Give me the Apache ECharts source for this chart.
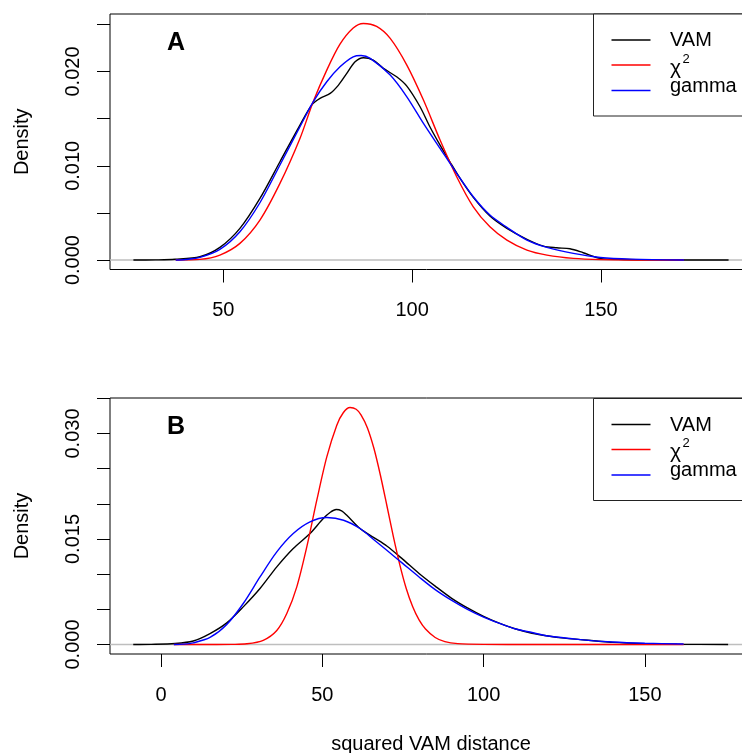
<!DOCTYPE html>
<html>
<head>
<meta charset="utf-8">
<script src="https://cdn.jsdelivr.net/npm/echarts@6/dist/echarts.min.js"></script>
<style>
html,body{margin:0;padding:0;background:#fff;}
#chart{width:742px;height:753px;}
</style>
</head>
<body>
<div id="chart"></div>
<script>
// ---------- Panel A data ----------
const aVamX = [26.2, 32, 37.2, 43.8, 49.1, 54.4, 59.7, 65.0, 70.3, 73.4, 75.6, 78.3, 80.5, 82.7, 84.9, 87.1, 89.7, 92.4, 95.9, 98.6, 102.1, 104.7, 107.4, 110.0, 112.7, 116.2, 120.6, 125.1, 130.4, 134.8, 138.3, 141.8, 145.3, 149.8, 156, 165, 183.8];
const aVamY = [0, 0.00002, 0.00008, 0.00035, 0.00134, 0.00336, 0.00654, 0.01043, 0.01432, 0.01644, 0.01715, 0.01768, 0.01856, 0.0198, 0.02103, 0.02146, 0.02121, 0.02033, 0.01944, 0.01845, 0.01626, 0.01414, 0.01219, 0.01043, 0.00866, 0.00665, 0.00467, 0.00336, 0.0022, 0.00148, 0.0013, 0.0012, 0.00078, 0.00018, 0.00006, 0.00002, 0];

const aChiX = [37.4, 43.8, 49.1, 54.4, 59.7, 65.0, 70.3, 73.8, 77.4, 80.9, 84.4, 87.1, 90.6, 94.2, 98.6, 103.0, 107.4, 111.8, 116.2, 120.6, 125.1, 130.4, 135.7, 142.7, 150, 160, 172];
const aChiY = [0, 0.00007, 0.00053, 0.00177, 0.00424, 0.00813, 0.0129, 0.01679, 0.02015, 0.0229, 0.02462, 0.0251, 0.02478, 0.02351, 0.02068, 0.01697, 0.01273, 0.00884, 0.00565, 0.00353, 0.00212, 0.00106, 0.00053, 0.00018, 0.00005, 0.00001, 0];

const aGamX = [37.4, 40, 43.8, 49.1, 54.4, 59.7, 65.0, 70.3, 73.8, 77.4, 80.9, 84.4, 86.5, 88.9, 94.2, 98.6, 103.0, 107.4, 111.8, 116.2, 120.6, 125.1, 130.4, 135.7, 142.7, 149.8, 158, 172];
const aGamY = [0, 0.00006, 0.00028, 0.00113, 0.003, 0.00608, 0.01008, 0.01414, 0.01679, 0.01891, 0.0205, 0.02156, 0.0217, 0.0214, 0.01962, 0.01732, 0.0145, 0.01185, 0.0092, 0.00671, 0.00477, 0.00347, 0.00212, 0.00135, 0.00071, 0.00028, 0.0001, 0.00001];

// ---------- Panel B data ----------
const bVamX = [-8.6, -3, 4.4, 10.0, 15.2, 20.4, 25.5, 30.7, 35.9, 41.0, 46.2, 50.3, 52.5, 54.3, 56, 57.6, 61.7, 66, 70, 75, 80, 85, 90, 95, 100, 105, 110, 115, 120, 125, 130, 135, 140, 150, 160, 175.8];
const bVamY = [0, 0.00002, 0.00014, 0.0005, 0.00156, 0.00308, 0.00535, 0.00796, 0.01104, 0.01365, 0.01578, 0.01791, 0.0188, 0.01919, 0.0190, 0.01838, 0.01649, 0.0152, 0.0140, 0.0121, 0.0101, 0.0083, 0.0066, 0.0052, 0.0040, 0.0030, 0.0022, 0.0016, 0.0012, 0.0009, 0.0007, 0.0005, 0.0003, 0.00012, 0.00004, 0];

const bChiX = [4.0, 15, 22, 26.6, 31.7, 35.9, 39.0, 42.1, 45.2, 48.3, 51.4, 54.5, 56.5, 58.6, 60.5, 62, 64, 66, 68, 70, 72, 74, 76, 78, 80, 82, 85, 88, 92, 100, 115, 162];
const bChiY = [0, 0, 0.00002, 0.0001, 0.0006, 0.002, 0.0044, 0.0082, 0.01388, 0.02052, 0.02667, 0.03118, 0.03295, 0.03369, 0.03345, 0.03265, 0.0308, 0.0279, 0.0241, 0.0198, 0.0154, 0.0114, 0.0080, 0.0054, 0.0035, 0.0022, 0.0010, 0.0004, 0.00012, 0.00002, 0, 0];

const bGamX = [4.0, 7, 10.0, 15.2, 20.4, 25.5, 30.7, 35.9, 41.0, 46.2, 51.4, 56.6, 61.7, 66, 70, 75, 80, 85, 90, 95, 100, 105, 110, 115, 120, 130, 140, 150, 162];
const bGamY = [0, 0.00005, 0.00023, 0.001, 0.00285, 0.00583, 0.00961, 0.01317, 0.01578, 0.01743, 0.01805, 0.01767, 0.01649, 0.0149, 0.0134, 0.0115, 0.0096, 0.0078, 0.0063, 0.0050, 0.0039, 0.0030, 0.0022, 0.0017, 0.0012, 0.0007, 0.00035, 0.00017, 0.00007];

// ---------- axes / ticks ----------
const aXLim = [20, 190];
const bXLim = [-15.8, 183.2];
const aYLim = [-0.001, 0.0261];
const bYLim = [-0.00135, 0.03505];
const aXTicks = [50, 100, 150];
const bXTicks = [0, 50, 100, 150];
const aYTicks = [0, 0.005, 0.01, 0.015, 0.02, 0.025];
const aYLabels = [0, 0.01, 0.02];
const bYTicks = [0, 0.005, 0.01, 0.015, 0.02, 0.025, 0.03, 0.035];
const bYLabels = [0, 0.015, 0.03];
const legendNames = ['VAM', 'χ', 'gamma'];
const panelLabels = ['A', 'B'];
const colors = ['#000000', '#ff0000', '#0000ff'];

const FF = '"Liberation Sans", Arial, Helvetica, sans-serif';
const zip = (xs, ys) => xs.map((x, i) => [x, ys[i]]);

function xAx(gi, lim, ticks, name) {
  return {
    type: 'value', gridIndex: gi, min: lim[0], max: lim[1],
    axisLine: { show: false, onZero: false },
    axisTick: { show: true, length: 13, customValues: ticks, lineStyle: { color: '#000', width: 1 } },
    axisLabel: { customValues: ticks, margin: 31, color: '#000', fontSize: 20, fontFamily: FF,
      formatter: v => String(v) },
    splitLine: { show: false },
    name: name || '', nameLocation: 'middle', nameGap: 80,
    nameTextStyle: { color: '#000', fontSize: 20, fontFamily: FF }
  };
}
function yAx(gi, lim, ticks, labels) {
  return {
    type: 'value', gridIndex: gi, min: lim[0], max: lim[1],
    axisLine: { show: false, onZero: false },
    axisTick: { show: true, length: 13, customValues: ticks, lineStyle: { color: '#000', width: 1 } },
    axisLabel: { customValues: labels, margin: 27, rotate: 90, color: '#000', fontSize: 20, fontFamily: FF,
      formatter: v => Number(v).toFixed(3) },
    splitLine: { show: false },
    name: 'Density', nameLocation: 'middle', nameGap: 78, nameRotate: 90,
    nameTextStyle: { color: '#000', fontSize: 20, fontFamily: FF }
  };
}
function line(name, gi, data, color, z) {
  return {
    type: 'line', name, xAxisIndex: gi, yAxisIndex: gi, data,
    showSymbol: false, symbol: 'none', smooth: 0.3, z: z || 3,
    lineStyle: { color, width: 1.4 }, silent: true
  };
}

const grids = [
  { left: 110, top: 14, width: 642, height: 255.5 },
  { left: 110, top: 398, width: 642, height: 256 }
].map(g => Object.assign(g, { show: true, borderColor: '#000', borderWidth: 1, backgroundColor: 'transparent', containLabel: false, outerBoundsMode: 'none' }));

function legendGraphics(top, label, labelY) {
  const els = [];
  els.push({ type: 'rect', shape: { x: 593.5, y: top, width: 200, height: 102 }, style: { fill: '#fff', stroke: '#222', lineWidth: 1 }, z: 10 });
  const ly = [top + 26, top + 51, top + 76.5];
  ly.forEach((y, i) => {
    els.push({ type: 'line', shape: { x1: 611.5, y1: y, x2: 650.5, y2: y }, style: { stroke: colors[i], lineWidth: 1.4 }, z: 11 });
  });
  els.push({ type: 'text', x: 670, y: top + 26.5, style: { text: legendNames[0], fill: '#000', font: '20px ' + FF, textVerticalAlign: 'middle', verticalAlign: 'middle' }, z: 11 });
  els.push({ type: 'text', x: 670, y: top + 54, style: { text: legendNames[1], fill: '#000', font: '21px ' + FF, textVerticalAlign: 'middle', verticalAlign: 'middle' }, z: 11 });
  els.push({ type: 'text', x: 682.5, y: top + 45, style: { text: '2', fill: '#000', font: '13px ' + FF, textVerticalAlign: 'middle', verticalAlign: 'middle' }, z: 11 });
  els.push({ type: 'text', x: 670, y: top + 72, style: { text: legendNames[2], fill: '#000', font: '20px ' + FF, textVerticalAlign: 'middle', verticalAlign: 'middle' }, z: 11 });
  els.push({ type: 'text', x: 176, y: labelY, style: { text: label, fill: '#000', font: 'bold 25px ' + FF, textAlign: 'center', align: 'center', textVerticalAlign: 'middle', verticalAlign: 'middle' }, z: 11 });
  return els;
}

const chart = echarts.init(document.getElementById('chart'), null, { renderer: 'canvas' });
chart.setOption({
  animation: false,
  backgroundColor: '#fff',
  grid: grids,
  xAxis: [xAx(0, aXLim, aXTicks), xAx(1, bXLim, bXTicks, 'squared VAM distance')],
  yAxis: [yAx(0, aYLim, aYTicks, aYLabels), yAx(1, bYLim, bYTicks, bYLabels)],
  series: [
    line('zeroA', 0, [[aXLim[0], 0], [aXLim[1], 0]], '#bebebe', 1),
    line('VAM', 0, zip(aVamX, aVamY), colors[0], 3),
    line('chi2', 0, zip(aChiX, aChiY), colors[1], 4),
    line('gamma', 0, zip(aGamX, aGamY), colors[2], 5),
    line('zeroB', 1, [[bXLim[0], 0], [bXLim[1], 0]], '#bebebe', 1),
    line('VAM', 1, zip(bVamX, bVamY), colors[0], 3),
    line('chi2', 1, zip(bChiX, bChiY), colors[1], 4),
    line('gamma', 1, zip(bGamX, bGamY), colors[2], 5)
  ],
  graphic: legendGraphics(14, panelLabels[0], 43).concat(legendGraphics(398.5, panelLabels[1], 427.5))
});
</script>
</body>
</html>
